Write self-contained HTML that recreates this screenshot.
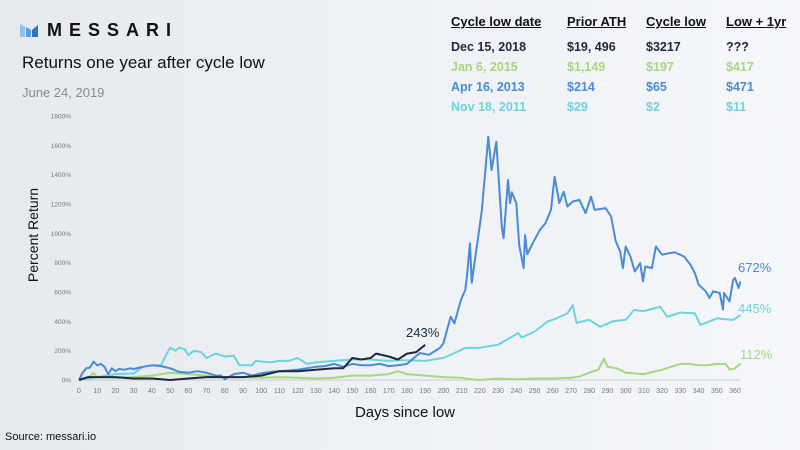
<!DOCTYPE html>
<html><head><meta charset="utf-8">
<style>
body{margin:0;width:800px;height:450px;overflow:hidden;font-family:"Liberation Sans",sans-serif;background:linear-gradient(90deg,#e6e9ee 0%,#eef1f5 50%,#f5f7fa 100%);}
#wrap{position:relative;width:800px;height:450px;}
.t{position:absolute;white-space:nowrap;}
.hd{font-weight:bold;font-size:13px;text-decoration:underline;color:#111;}
.rw{font-weight:bold;font-size:12.5px;}
</style></head><body>
<div id="wrap">
<svg class="t" style="left:20px;top:22px" width="24" height="16">
<polygon points="0,2 5,5 5,15 0,15" fill="#8cc4f0"/><polygon points="6,5 11,8 11,15 6,15" fill="#5a9ee0"/><polygon points="12,8 18,3 18,15 12,15" fill="#2f72c4"/>
</svg>
<div class="t" style="left:47px;top:20px;font-size:18px;font-weight:bold;letter-spacing:7px;color:#111">MESSARI</div>
<div class="t" style="left:22px;top:53px;font-size:17px;color:#111">Returns one year after cycle low</div>
<div class="t" style="left:22px;top:85px;font-size:13px;color:#8a8a8a">June 24, 2019</div>

<div class="t hd" style="left:451px;top:14px">Cycle low date</div>
<div class="t hd" style="left:567px;top:14px">Prior ATH</div>
<div class="t hd" style="left:646px;top:14px">Cycle low</div>
<div class="t hd" style="left:726px;top:14px">Low + 1yr</div>

<div style="color:#1e2a3a">
<div class="t rw" style="left:451px;top:40px">Dec 15, 2018</div><div class="t rw" style="left:567px;top:40px">$19, 496</div><div class="t rw" style="left:646px;top:40px">$3217</div><div class="t rw" style="left:726px;top:40px">???</div></div>
<div style="color:#a6d77c">
<div class="t rw" style="left:451px;top:60px">Jan 6, 2015</div><div class="t rw" style="left:567px;top:60px">$1,149</div><div class="t rw" style="left:646px;top:60px">$197</div><div class="t rw" style="left:726px;top:60px">$417</div></div>
<div style="color:#4a8ad6">
<div class="t rw" style="left:451px;top:80px">Apr 16, 2013</div><div class="t rw" style="left:567px;top:80px">$214</div><div class="t rw" style="left:646px;top:80px">$65</div><div class="t rw" style="left:726px;top:80px">$471</div></div>
<div style="color:#6dd3dc">
<div class="t rw" style="left:451px;top:100px">Nov 18, 2011</div><div class="t rw" style="left:567px;top:100px">$29</div><div class="t rw" style="left:646px;top:100px">$2</div><div class="t rw" style="left:726px;top:100px">$11</div></div>

<svg id="chart" class="t" style="left:0;top:0" width="800" height="450"></svg>
<div class="t" style="left:5px;top:431px;font-size:11px;color:#111">Source: messari.io</div>
</div>
<script>
const xTicks=[0,10,20,30,40,50,60,70,80,90,100,110,120,130,140,150,160,170,180,190,200,210,220,230,240,250,260,270,280,290,300,310,320,330,340,350,360];
const yTicks=[0,200,400,600,800,1000,1200,1400,1600,1800];
const dDays=[0,5,10,20,30,40,50,60,70,80,90,100,110,120,130,140,145,150,155,160,163,170,175,180,185,188,190];
const dVals=[0,20,20,20,10,10,0,10,20,20,20,30,60,60,70,80,80,150,140,150,180,160,140,180,190,220,239];
const gDays=[0,5,8,10,15,20,30,40,50,60,70,80,90,100,110,120,130,140,150,160,170,175,180,190,200,210,215,220,230,240,250,260,270,275,280,285,288,290,295,300,310,320,325,330,335,340,345,350,355,357,360,363];
const gVals=[0,10,50,20,20,15,20,30,50,40,30,20,20,15,20,15,10,15,30,30,40,60,40,30,20,15,5,0,10,5,10,10,15,25,50,70,145,90,80,50,40,70,90,110,110,100,100,110,110,70,80,112];
const bDays=[0,2,4,6,8,10,12,14,16,18,20,22,25,28,30,35,40,45,50,55,60,65,70,75,78,80,82,85,90,95,100,105,110,115,120,125,130,135,140,145,150,155,160,165,170,175,180,187,192,198,200,204,206,209.6,212,213,214.6,215.5,221,224.6,226.4,229,232,233,235.4,236.6,237.5,240,241.6,244,244.8,246,249,253,256,259,261,263.6,266,268,271,274.6,278,281,283,289,292,294.6,297,298.5,300,302.6,305,308,309.5,310.8,314.4,316.6,320,324,327,332,335.6,338,340,344,346,348,351.6,353.4,354,357,359,360,362,363];
const bVals=[0,50,80,85,125,100,110,90,40,80,60,75,70,80,75,90,100,95,80,55,50,60,50,30,30,5,20,40,50,30,45,55,60,65,70,80,90,95,110,90,110,100,100,110,95,100,110,184,172,218,250,432,386,545,614,716,933,663,1147,1658,1431,1625,1045,967,1363,1206,1280,1206,920,763,988,857,933,1024,1070,1160,1386,1206,1284,1183,1217,1228,1138,1250,1160,1172,1115,944,876,763,910,842,740,797,672,774,763,910,854,865,870,842,786,729,650,604,559,604,593,480,593,536,684,695,627,672];
const cDays=[0,10,15,20,30,35,40,45,47,50,53,55,58,60,63,67,70,75,80,85,88,90,95,97,105,110,115,120,125,130,140,150,160,170,176,190,200,212,220,230,241,243,250,257,262,268,271,273,280,286,293,300,304.6,310,319,322.8,330,338,341,350,359,363];
const cVals=[0,20,30,40,45,90,100,100,150,220,200,220,210,170,200,190,150,180,160,165,100,100,100,130,120,130,130,150,110,120,130,140,140,130,136,130,150,218,220,241,320,290,330,398,420,454,511,389,410,363,400,410,477,470,500,431,460,454,375,420,409,443];
const endLabels=['243%','672%','445%','112%'];
const svg=document.getElementById('chart');const NS='http://www.w3.org/2000/svg';
const X0=79,XS=(735-79)/360,Y0=380,YS=(380-116)/1800;
function sx(d){return X0+d*XS;}function sy(v){return Y0-v*YS;}
function mk(tag,at,txt){const e=document.createElementNS(NS,tag);for(const k in at)e.setAttribute(k,at[k]);if(txt!==undefined)e.textContent=txt;svg.appendChild(e);return e;}
const base=mk('line',{x1:X0,x2:740,y1:Y0,y2:Y0,stroke:'#c8ccd2','stroke-width':1});


xTicks.forEach(t=>{const e=mk('text',{x:sx(t),y:393,'font-size':7,fill:'#777','text-anchor':'middle'},String(t));

});
yTicks.forEach(t=>{const e=mk('text',{x:71,y:sy(t)+2.5,'font-size':6.5,fill:'#777','text-anchor':'end'},t+'%');

});
function line(days,vals,col,name){const p=days.map((d,i)=>(i?'L':'M')+sx(d).toFixed(1)+','+sy(vals[i]).toFixed(1)).join('');
const e=mk('path',{d:p,fill:'none',stroke:col,'stroke-width':2,'stroke-linejoin':'round'});

}
line(gDays,gVals,'#a6d77c','series-2015');
line(cDays,cVals,'#6dd3dc','series-2011');
line(bDays,bVals,'#4a8ad6','series-2013');
line(dDays,dVals,'#1e2a3a','series-2018');
const l1=mk('text',{x:406,y:337,'font-size':13,fill:'#1e2a3a'},endLabels[0]);


const l2=mk('text',{x:738,y:272,'font-size':13,fill:'#4a8ad6'},endLabels[1]);


const l3=mk('text',{x:738,y:313,'font-size':13,fill:'#6dd3dc'},endLabels[2]);


const l4=mk('text',{x:740,y:359,'font-size':13,fill:'#a6d77c'},endLabels[3]);


const xt=mk('text',{x:405,y:417,'font-size':15,fill:'#111','text-anchor':'middle'},'Days since low');


const yt=mk('text',{x:0,y:0,'font-size':14,fill:'#111','text-anchor':'middle',transform:'translate(38,235) rotate(-90)'},'Percent Return');


</script>
</body></html>
